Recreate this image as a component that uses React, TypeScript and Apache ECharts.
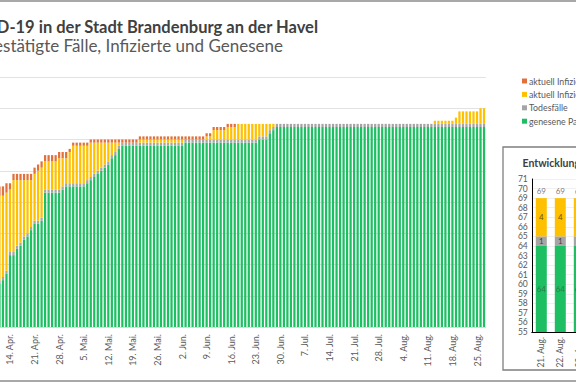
import React, { useEffect, useRef } from "react";
import * as echarts from "echarts";

// ---------- data ----------
const MONTHS = ["Jan.", "Feb.", "Mär.", "Apr.", "Mai.", "Jun.", "Jul.", "Aug.", "Sep.", "Okt.", "Nov.", "Dez."];
const START_YEAR = 2020;
const START_MONTH = 3; // April (0-based)
const START_DAY = 11;
const DAY_COUNT = 139; // 11. Apr. .. 27. Aug.

const categories: string[] = Array.from({ length: DAY_COUNT }, (_, i) => {
  const d = new Date(START_YEAR, START_MONTH, START_DAY + i);
  return `${d.getDate()}. ${MONTHS[d.getMonth()]}`;
});

const genesen: number[] = [
  14, 15, 17, 23, 23, 25, 26, 28, 29, 31,
  33, 33, 34, 43, 43, 43, 43, 43, 44, 45,
  45, 45, 45, 45, 45, 46, 47, 48, 49, 50,
  51, 52, 54, 55, 57, 58, 58, 58, 58, 58,
  58, 58, 58, 58, 58, 58, 58, 58, 58, 58,
  58, 58, 58, 59, 59, 59, 59, 59, 59, 59,
  59, 59, 59, 59, 59, 59, 59, 59, 59, 59,
  59, 59, 59, 59, 60, 60, 60, 62, 63, 64,
  64, 64, 64, 64, 64, 64, 64, 64, 64, 64,
  64, 64, 64, 64, 64, 64, 64, 64, 64, 64,
  64, 64, 64, 64, 64, 64, 64, 64, 64, 64,
  64, 64, 64, 64, 64, 64, 64, 64, 64, 64,
  64, 64, 64, 64, 64, 64, 64, 64, 64, 64,
  64, 64, 64, 64, 64, 64, 64, 64, 64,
];

const todesfaelle: number[] = [
  1, 1, 1, 1, 1, 1, 1, 1, 1, 1,
  1, 1, 1, 1, 1, 1, 1, 1, 1, 1,
  1, 1, 1, 1, 1, 1, 1, 1, 1, 1,
  1, 1, 1, 1, 1, 1, 1, 1, 1, 1,
  1, 1, 1, 1, 1, 1, 1, 1, 1, 1,
  1, 1, 1, 1, 1, 1, 1, 1, 1, 1,
  1, 1, 1, 1, 1, 1, 1, 1, 1, 1,
  1, 1, 1, 1, 1, 1, 1, 1, 1, 1,
  1, 1, 1, 1, 1, 1, 1, 1, 1, 1,
  1, 1, 1, 1, 1, 1, 1, 1, 1, 1,
  1, 1, 1, 1, 1, 1, 1, 1, 1, 1,
  1, 1, 1, 1, 1, 1, 1, 1, 1, 1,
  1, 1, 1, 1, 1, 1, 1, 1, 1, 1,
  1, 1, 1, 1, 1, 1, 1, 1, 1,
];

const infiziertHaeuslich: number[] = [
  27, 26, 25, 20, 23, 21, 20, 18, 17, 15,
  15, 16, 16, 9, 9, 9, 9, 10, 9, 8,
  10, 12, 12, 12, 12, 11, 11, 10, 9, 8,
  7, 6, 4, 3, 1, 0, 0, 0, 0, 0,
  1, 1, 1, 1, 1, 1, 1, 1, 1, 1,
  1, 1, 1, 0, 0, 0, 0, 0, 0, 1,
  1, 3, 3, 3, 3, 4, 4, 4, 5, 5,
  5, 5, 5, 5, 4, 4, 4, 2, 1, 0,
  0, 0, 0, 0, 0, 0, 0, 0, 0, 0,
  0, 0, 0, 0, 0, 0, 0, 0, 0, 0,
  0, 0, 0, 0, 0, 0, 0, 0, 0, 0,
  0, 0, 0, 0, 0, 0, 0, 0, 0, 0,
  0, 0, 0, 0, 1, 1, 1, 1, 1, 1,
  2, 4, 4, 4, 4, 4, 4, 5, 5,
];

const infiziertStationaer: number[] = [
  3, 3, 3, 2, 2, 2, 2, 2, 2, 2,
  2, 2, 2, 2, 2, 2, 2, 2, 2, 2,
  1, 1, 1, 1, 1, 1, 1, 1, 1, 1,
  1, 1, 1, 1, 1, 1, 1, 1, 1, 1,
  1, 1, 1, 1, 1, 1, 1, 1, 1, 1,
  1, 1, 1, 1, 1, 1, 1, 1, 1, 1,
  1, 1, 1, 1, 1, 1, 1, 1, 0, 0,
  0, 0, 0, 0, 0, 0, 0, 0, 0, 0,
  0, 0, 0, 0, 0, 0, 0, 0, 0, 0,
  0, 0, 0, 0, 0, 0, 0, 0, 0, 0,
  0, 0, 0, 0, 0, 0, 0, 0, 0, 0,
  0, 0, 0, 0, 0, 0, 0, 0, 0, 0,
  0, 0, 0, 0, 0, 0, 0, 0, 0, 0,
  0, 0, 0, 0, 0, 0, 0, 0, 0,
];

const INSET_DAYS = 7;

const TITLE = "COVID-19 in der Stadt Brandenburg an der Havel";
const SUBTITLE = "Bestätigte Fälle, Infizierte und Genesene";
const INSET_TITLE = "Entwicklung der letzten 7 Tage";

const NAME_STAT = "aktuell Infizierte (stationär)";
const NAME_HAUS = "aktuell Infizierte (häusliche Isolation)";
const NAME_TOD = "Todesfälle";
const NAME_GEN = "genesene Patienten";

const C_STAT = "#e2703a";
const C_HAUS = "#ffc000";
const C_TOD = "#a5a5a5";
const C_GEN = "#1dbf62";

const FONT = "Lato, 'Open Sans', sans-serif";

export default function App() {
  const ref = useRef<HTMLDivElement>(null);

  useEffect(() => {
    if (!ref.current) return;
    const chart = echarts.init(ref.current, undefined, { renderer: "svg" });

    const insetCats = categories.slice(-INSET_DAYS);
    const iGen = genesen.slice(-INSET_DAYS);
    const iTod = todesfaelle.slice(-INSET_DAYS);
    const iHaus = infiziertHaeuslich.slice(-INSET_DAYS);
    const iStat = infiziertStationaer.slice(-INSET_DAYS);
    const iTotal = iGen.map((g, k) => g + iTod[k] + iHaus[k] + iStat[k]);
    const insetMin = 55;

    const mainBar = (name: string, data: number[], color: string) => ({
      type: "bar",
      name,
      stack: "main",
      data,
      xAxisIndex: 0,
      yAxisIndex: 0,
      barCategoryGap: "36%",
      itemStyle: { color },
      emphasis: { disabled: true },
    });

    const insetBar = (name: string, data: number[], color: string, showLabel: boolean, labelColor = "#595959") => ({
      type: "bar",
      name,
      stack: "inset",
      data,
      xAxisIndex: 1,
      yAxisIndex: 1,
      barWidth: 11,
      itemStyle: { color },
      emphasis: { disabled: true },
      label: {
        show: showLabel,
        position: "inside",
        fontSize: 8,
        fontFamily: FONT,
        color: labelColor,
        formatter: (p: any) => (p.value > 0 ? String(p.value) : ""),
      },
    });

    const option: any = {
      animation: false,
      backgroundColor: "#ffffff",
      textStyle: { fontFamily: FONT },
      graphic: [
        {
          type: "rect",
          shape: { x: 10, y: 1, width: 806, height: 380 },
          style: { fill: "none", stroke: "#8c8c8c", lineWidth: 1.5 },
          silent: true,
          z: -10,
        },
        {
          type: "text",
          x: 418,
          y: 27,
          style: {
            text: TITLE,
            fill: "#404040",
            fontSize: 16.5,
            fontWeight: "bold",
            fontFamily: FONT,
            textAlign: "right",
            textVerticalAlign: "middle",
            verticalAlign: "middle",
          },
        },
        {
          type: "text",
          x: 383,
          y: 45.5,
          style: {
            text: SUBTITLE,
            fill: "#595959",
            fontSize: 17,
            fontFamily: FONT,
            textAlign: "right",
            textVerticalAlign: "middle",
            verticalAlign: "middle",
          },
        },
        {
          type: "rect",
          shape: { x: 603, y: 147, width: 300, height: 223 },
          style: { fill: "#ffffff", stroke: "#7f7f7f", lineWidth: 1.3 },
          silent: true,
          z: -5,
        },
        {
          type: "text",
          x: 622.5,
          y: 163,
          style: {
            text: INSET_TITLE,
            fill: "#404040",
            fontSize: 10.5,
            fontWeight: "bold",
            fontFamily: FONT,
            textAlign: "left",
            textVerticalAlign: "middle",
            verticalAlign: "middle",
          },
        },
      ],
      legend: {
        orient: "vertical",
        left: 617,
        top: 70,
        itemWidth: 5,
        itemHeight: 5,
        itemGap: 1.4,
        icon: "rect",
        selectedMode: false,
        data: [NAME_STAT, NAME_HAUS, NAME_TOD, NAME_GEN],
        textStyle: { fontSize: 8.8, color: "#595959", fontFamily: FONT, lineHeight: 12, padding: [0, 0, 0, -3] },
      },
      grid: [
        { left: 97.7, right: 240.2, top: 77, bottom: 57, outerBoundsMode: "none" },
        { left: 631.8, right: 61.2, top: 179, bottom: 52, outerBoundsMode: "none" },
      ],
      xAxis: [
        {
          gridIndex: 0,
          type: "category",
          data: categories,
          axisLine: { show: true, lineStyle: { color: "#d9d9d9" } },
          axisTick: { show: false },
          axisLabel: {
            rotate: 90,
            interval: (i: number) => (i - 3) % 7 === 0,
            fontSize: 9,
            color: "#595959",
            fontFamily: FONT,
            margin: 7,
          },
        },
        {
          gridIndex: 1,
          type: "category",
          data: insetCats,
          axisLine: { show: true, lineStyle: { color: "#000000" } },
          axisTick: { show: false },
          axisLabel: {
            rotate: 90,
            interval: 0,
            fontSize: 8.5,
            color: "#595959",
            fontFamily: FONT,
            margin: 5,
          },
        },
      ],
      yAxis: [
        {
          gridIndex: 0,
          type: "value",
          min: 0,
          max: 80,
          interval: 10,
          axisLine: { show: false },
          axisTick: { show: false },
          axisLabel: { show: false },
          splitLine: { lineStyle: { color: "#e2e2e2" } },
        },
        {
          gridIndex: 1,
          type: "value",
          min: insetMin,
          max: 71,
          interval: 1,
          axisLine: { show: true, lineStyle: { color: "#000000" } },
          axisTick: { show: false },
          axisLabel: { fontSize: 8.5, color: "#595959", fontFamily: FONT, margin: 4 },
          splitLine: { lineStyle: { color: "#f0f0f0" } },
        },
      ],
      series: [
        mainBar(NAME_GEN, genesen, C_GEN),
        mainBar(NAME_TOD, todesfaelle, C_TOD),
        mainBar(NAME_HAUS, infiziertHaeuslich, C_HAUS),
        mainBar(NAME_STAT, infiziertStationaer, C_STAT),
        insetBar(NAME_GEN, iGen, C_GEN, false),
        insetBar(NAME_TOD, iTod, C_TOD, true, "#404040"),
        insetBar(NAME_HAUS, iHaus, C_HAUS, true, "#6b5200"),
        insetBar(NAME_STAT, iStat, C_STAT, true, "#404040"),
        {
          type: "scatter",
          name: "genesen-label",
          xAxisIndex: 1,
          yAxisIndex: 1,
          symbolSize: 1,
          silent: true,
          itemStyle: { color: "transparent" },
          data: iGen.map((g) => ({ value: (insetMin + g) / 2, g })),
          label: {
            show: true,
            position: "inside",
            fontSize: 8,
            fontFamily: FONT,
            color: "#2f6b45",
            formatter: (p: any) => String(p.data.g),
          },
          z: 5,
        },
        {
          type: "scatter",
          name: "summe-label",
          xAxisIndex: 1,
          yAxisIndex: 1,
          symbolSize: 1,
          silent: true,
          itemStyle: { color: "transparent" },
          data: iTotal,
          label: {
            show: true,
            position: "top",
            distance: 3,
            fontSize: 8,
            fontFamily: FONT,
            color: "#595959",
            formatter: (p: any) => String(p.value),
          },
          z: 5,
        },
      ],
    };

    chart.setOption(option);
    return () => chart.dispose();
  }, []);

  return (
    <div
      style={{
        position: "fixed",
        left: 0,
        top: 0,
        width: 576,
        height: 384,
        overflow: "hidden",
        background: "#ffffff",
      }}
    >
      <div ref={ref} style={{ position: "absolute", left: -100, top: 0, width: 826, height: 384 }} />
    </div>
  );
}
